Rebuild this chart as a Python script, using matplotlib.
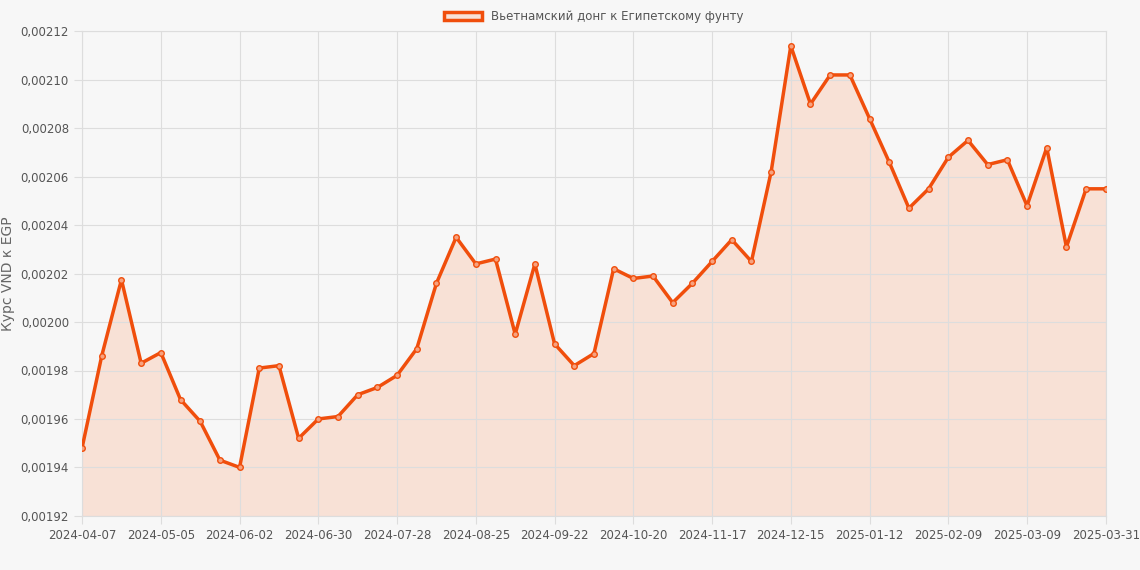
import matplotlib.pyplot as plt
from matplotlib.ticker import FuncFormatter
from matplotlib.patches import Patch

# weekly rates, VND -> EGP
rates = [
    0.0019481, 0.0019861, 0.0020175, 0.0019830, 0.0019874, 0.0019680, 0.0019590,
    0.0019430, 0.0019400, 0.0019810, 0.0019820, 0.0019520, 0.0019600, 0.0019610,
    0.0019700, 0.0019730, 0.0019780, 0.0019890, 0.0020160, 0.0020350, 0.0020240,
    0.0020260, 0.0019950, 0.0020240, 0.0019910, 0.0019820, 0.0019870, 0.0020220,
    0.0020180, 0.0020190, 0.0020080, 0.0020160, 0.0020250, 0.0020340, 0.0020250,
    0.0020620, 0.0021140, 0.0020900, 0.0021020, 0.0021020, 0.0020840, 0.0020660,
    0.0020470, 0.0020550, 0.0020680, 0.0020750, 0.0020650, 0.0020670, 0.0020480,
    0.0020720, 0.0020310, 0.0020550, 0.0020550,
]
tick_pos = [0, 4, 8, 12, 16, 20, 24, 28, 32, 36, 40, 44, 48, 52]
tick_labels = [
    "2024-04-07", "2024-05-05", "2024-06-02", "2024-06-30", "2024-07-28",
    "2024-08-25", "2024-09-22", "2024-10-20", "2024-11-17", "2024-12-15",
    "2025-01-12", "2025-02-09", "2025-03-09", "2025-03-31",
]
LINE = "#f04e0c"
FILL = "#f8e1d6"

fig = plt.figure(figsize=(11.4, 5.7), dpi=100)
fig.patch.set_facecolor("#f7f7f7")
ax = fig.add_axes([0.072, 0.095, 0.898, 0.85])
ax.set_facecolor("#f7f7f7")

x = list(range(len(rates)))
ax.fill_between(x, rates, 0.00192, color=FILL, zorder=1)
ax.plot(x, rates, color=LINE, lw=2.5, zorder=3)
ax.scatter(x, rates, s=16, facecolor="#f7a27f", edgecolor=LINE, lw=1, zorder=4)

ax.set_xlim(0, len(rates) - 1)
ax.set_ylim(0.00192, 0.00212)
ax.set_yticks([0.00192 + i * 0.00002 for i in range(11)])
ax.yaxis.set_major_formatter(FuncFormatter(lambda v, p: f"{v:.5f}".replace(".", ",")))
ax.set_xticks(tick_pos)
ax.set_xticklabels(tick_labels)
ax.tick_params(labelsize=8.5, colors="#555555", length=6, color="#dddddd")
ax.grid(color="#dddddd", lw=0.8)
for s in ax.spines.values():
    s.set_color("#dddddd")
ax.set_ylabel("Курс VND к EGP", color="#666666", fontsize=10, labelpad=4)

ax.legend(handles=[Patch(facecolor=FILL, edgecolor=LINE, lw=2.5,
                         label="Вьетнамский донг к Египетскому фунту")],
          loc="lower center", bbox_to_anchor=(0.5, 1.0), frameon=False,
          fontsize=8.5, labelcolor="#555555", handlelength=3.2, borderaxespad=0.3)

fig.savefig("out.png", facecolor=fig.get_facecolor())
